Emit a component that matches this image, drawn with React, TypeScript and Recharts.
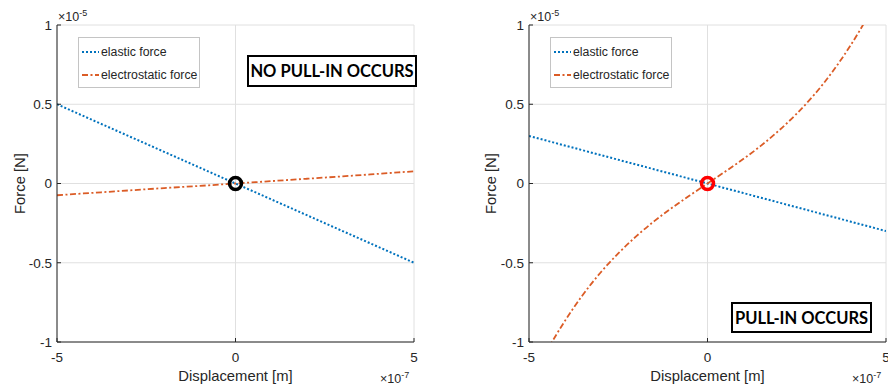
import React from 'react';
import { LineChart, Line, XAxis, YAxis, CartesianGrid, Legend, ReferenceDot, Label } from 'recharts';

// displacement in units of 1e-7 m, force in units of 1e-5 N
const xTicks = [-5, 0, 5];
const yTicks = [-1, -0.5, 0, 0.5, 1];
const seriesNames = ['elastic force', 'electrostatic force'];

const leftDisp = [-5, -4, -3, -2, -1, 0, 1, 2, 3, 4, 5];
const leftElastic = [0.5, 0.4, 0.3, 0.2, 0.1, 0, -0.1, -0.2, -0.3, -0.4, -0.5];
const leftElectro = [-0.074, -0.059, -0.044, -0.029, -0.015, 0, 0.015, 0.03, 0.045, 0.061, 0.077];

const rightDisp = [-5, -4.5, -4, -3.5, -3, -2.5, -2, -1.5, -1, -0.5, 0, 0.5, 1, 1.5, 2, 2.5, 3, 3.5, 4, 4.5, 5];
const rightElastic = [0.3, 0.27, 0.24, 0.21, 0.18, 0.15, 0.12, 0.09, 0.06, 0.03, 0, -0.03, -0.06, -0.09, -0.12, -0.15, -0.18, -0.21, -0.24, -0.27, -0.3];
const rightElectro = [-1.275, -1.058, -0.869, -0.705, -0.563, -0.441, -0.334, -0.239, -0.154, -0.076, 0, 0.076, 0.154, 0.239, 0.334, 0.441, 0.563, 0.705, 0.869, 1.058, 1.275];

const FONT = '"Liberation Sans", Arial, Helvetica, sans-serif';
const INK = '#262626';
const BLUE = '#0072BD';
const ORANGE = '#DB5C26';
const DOTTED = '2 2';
const DASHDOT = '6 2.5 2 2.5';

const toRows = (xs: number[], a: number[], b: number[]) =>
  xs.map((x, i) => ({ x, elastic: a[i], electro: b[i] }));

const leftData = toRows(leftDisp, leftElastic, leftElectro);
const rightData = toRows(rightDisp, rightElastic, rightElectro);

const LegendBox = () => (
  <div
    style={{
      border: '1px solid #c4c4c4',
      background: '#fff',
      width: 120,
      height: 49,
      fontFamily: FONT,
      fontSize: 12.3,
      color: INK,
      boxSizing: 'content-box',
    }}
  >
    {seriesNames.map((name, i) => (
      <div key={name} style={{ display: 'flex', alignItems: 'center', height: 23.6, marginTop: i === 0 ? 2 : 0 }}>
        <svg width={20} height={10} style={{ marginLeft: 2 }}>
          <line
            x1={1}
            y1={5}
            x2={18}
            y2={5}
            stroke={i === 0 ? BLUE : ORANGE}
            strokeWidth={2}
            strokeDasharray={i === 0 ? DOTTED : DASHDOT}
          />
        </svg>
        <span>{name}</span>
      </div>
    ))}
  </div>
);

const hideTick = () => <g />;

type PanelProps = {
  data: { x: number; elastic: number; electro: number }[];
  width: number;
  yAxisWidth: number;
  rightMargin: number;
  yLabelX: number;
  markerColor: string;
};

const Panel = ({ data, width, yAxisWidth, rightMargin, yLabelX, markerColor }: PanelProps) => (
  <LineChart width={width} height={389} data={data} margin={{ top: 25, right: rightMargin, bottom: 0, left: 0 }}>
    <CartesianGrid stroke="#e0e0e0" />
    <XAxis
      dataKey="x"
      type="number"
      domain={[-5, 5]}
      ticks={xTicks}
      interval={0}
      allowDataOverflow
      height={47}
      tickSize={-4}
      tickMargin={14}
      axisLine={{ stroke: INK }}
      tickLine={{ stroke: INK }}
      tick={{ fill: INK, fontSize: 13.5, fontFamily: FONT }}
    >
      <Label
        content={({ viewBox }: any) => (
          <text
            x={viewBox.x + viewBox.width / 2}
            y={viewBox.y + 39}
            textAnchor="middle"
            fill={INK}
            fontSize={14.8}
            fontFamily={FONT}
          >
            Displacement [m]
          </text>
        )}
      />
    </XAxis>
    <XAxis
      xAxisId="top"
      orientation="top"
      type="number"
      domain={[-5, 5]}
      ticks={xTicks}
      interval={0}
      allowDataOverflow
      height={0}
      tickSize={-4}
      axisLine={{ stroke: INK }}
      tickLine={{ stroke: INK }}
      tick={hideTick}
    />
    <YAxis
      type="number"
      domain={[-1, 1]}
      ticks={yTicks}
      interval={0}
      allowDataOverflow
      width={yAxisWidth}
      tickSize={-4}
      tickMargin={9}
      axisLine={{ stroke: INK }}
      tickLine={{ stroke: INK }}
      tick={{ fill: INK, fontSize: 13.5, fontFamily: FONT }}
    >
      <Label
        content={({ viewBox }: any) => (
          <text
            x={viewBox.x + yLabelX}
            y={viewBox.y + viewBox.height / 2}
            transform={`rotate(-90 ${viewBox.x + yLabelX} ${viewBox.y + viewBox.height / 2})`}
            textAnchor="middle"
            dominantBaseline="central"
            fill={INK}
            fontSize={14.8}
            fontFamily={FONT}
          >
            Force [N]
          </text>
        )}
      />
    </YAxis>
    <YAxis
      yAxisId="right"
      orientation="right"
      type="number"
      domain={[-1, 1]}
      ticks={yTicks}
      interval={0}
      allowDataOverflow
      width={0}
      tickSize={-4}
      axisLine={{ stroke: INK }}
      tickLine={{ stroke: INK }}
      tick={hideTick}
    />
    <Legend
      layout="vertical"
      align="center"
      verticalAlign="middle"
      content={() => <LegendBox />}
      wrapperStyle={{ left: yAxisWidth + 21, top: 37, width: 'auto', height: 'auto' }}
    />
    <Line
      dataKey="elastic"
      name={seriesNames[0]}
      stroke={BLUE}
      strokeWidth={2}
      strokeDasharray={DOTTED}
      dot={false}
      activeDot={false}
      isAnimationActive={false}
    />
    <Line
      dataKey="electro"
      name={seriesNames[1]}
      type="natural"
      stroke={ORANGE}
      strokeWidth={1.8}
      strokeDasharray={DASHDOT}
      dot={false}
      activeDot={false}
      isAnimationActive={false}
    />
    <ReferenceDot x={0} y={0} r={6} fill="none" stroke={markerColor} strokeWidth={3.5} />
  </LineChart>
);

const expStyle: React.CSSProperties = {
  position: 'absolute',
  fontFamily: FONT,
  fontSize: 12.5,
  color: INK,
  lineHeight: 1,
  whiteSpace: 'nowrap',
};

const Exponent = ({ left, top, power }: { left: number; top: number; power: string }) => (
  <div style={{ ...expStyle, left, top }}>
    ×10<sup style={{ fontSize: 9, verticalAlign: 5 }}>{power}</sup>
  </div>
);

const noteStyle: React.CSSProperties = {
  position: 'absolute',
  border: '2.5px solid #000',
  background: '#fff',
  fontFamily: 'Lato, "Open Sans", sans-serif',
  fontWeight: 700,
  fontSize: 16.5,
  color: '#000',
  display: 'flex',
  alignItems: 'center',
  justifyContent: 'center',
  boxSizing: 'border-box',
  whiteSpace: 'nowrap',
};

export default function App() {
  return (
    <div style={{ position: 'absolute', left: 0, top: 0, width: 888, height: 389, overflow: 'hidden', background: '#fff' }}>
      <div style={{ position: 'absolute', left: 0, top: 0 }}>
        <Panel data={leftData} width={430} yAxisWidth={57} rightMargin={16} yLabelX={19.5} markerColor="#000" />
      </div>
      <div style={{ position: 'absolute', left: 444, top: 0 }}>
        <Panel data={rightData} width={444} yAxisWidth={85} rightMargin={2} yLabelX={47} markerColor="#ff0000" />
      </div>
      <Exponent left={58} top={9} power="-5" />
      <Exponent left={530} top={9} power="-5" />
      <Exponent left={380} top={371} power="-7" />
      <Exponent left={852} top={371} power="-7" />
      <div style={{ ...noteStyle, left: 247, top: 55, width: 170, height: 32 }}>NO PULL-IN OCCURS</div>
      <div style={{ ...noteStyle, left: 731, top: 302, width: 141, height: 31 }}>PULL-IN OCCURS</div>
    </div>
  );
}
